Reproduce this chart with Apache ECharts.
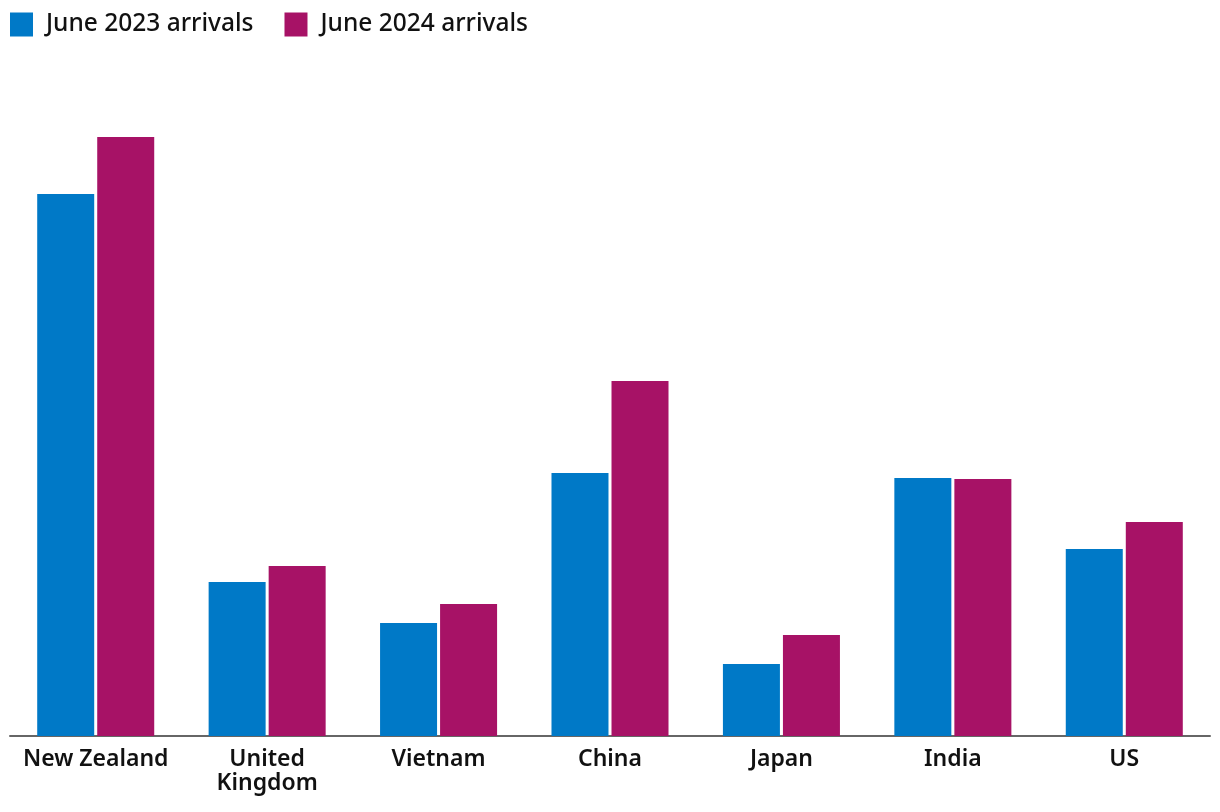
<!DOCTYPE html>
<html>
<head>
<meta charset="utf-8">
<script src="https://cdn.jsdelivr.net/npm/echarts@6/dist/echarts.min.js"></script>
<style>html,body{margin:0;padding:0;background:#fff}#c{width:1220px;height:812px}</style>
</head>
<body>
<div id="c"></div>
<script>
const categories = ['New Zealand', 'United\nKingdom', 'Vietnam', 'China', 'Japan', 'India', 'US'];
const june2023 = [542, 154, 113, 263, 72, 258, 187];
const june2024 = [599, 170, 132, 355, 101, 257, 214];
const seriesNames = ['June 2023 arrivals', 'June 2024 arrivals'];

const chart = echarts.init(document.getElementById('c'));
chart.setOption({
  animation: false,
  color: ['#0079c7', '#a71266'],
  legend: {
    left: 10, top: 12, padding: 0, itemWidth: 23, itemHeight: 24, itemGap: 31,
    icon: 'rect',
    textStyle: { fontFamily: 'Noto Sans', fontSize: 24.5, fontWeight: 500, color: '#111', padding: [0, 0, 0, 8] },
    data: seriesNames
  },
  grid: { left: 10, right: 10, top: 137, bottom: 76, containLabel: false },
  xAxis: {
    type: 'category',
    data: categories,
    axisLine: { lineStyle: { color: '#666', width: 2 } },
    axisTick: { show: false },
    axisLabel: { interval: 0, margin: 11, fontFamily: 'Noto Sans', fontSize: 23, fontWeight: 600, color: '#111', lineHeight: 24 }
  },
  yAxis: { type: 'value', min: 0, max: 599, show: false, splitLine: { show: false } },
  series: [
    { name: seriesNames[0], type: 'bar', data: june2023, barWidth: 57, barGap: '5.3%' },
    { name: seriesNames[1], type: 'bar', data: june2024, barWidth: 57, barGap: '5.3%' }
  ]
});
</script>
</body>
</html>
